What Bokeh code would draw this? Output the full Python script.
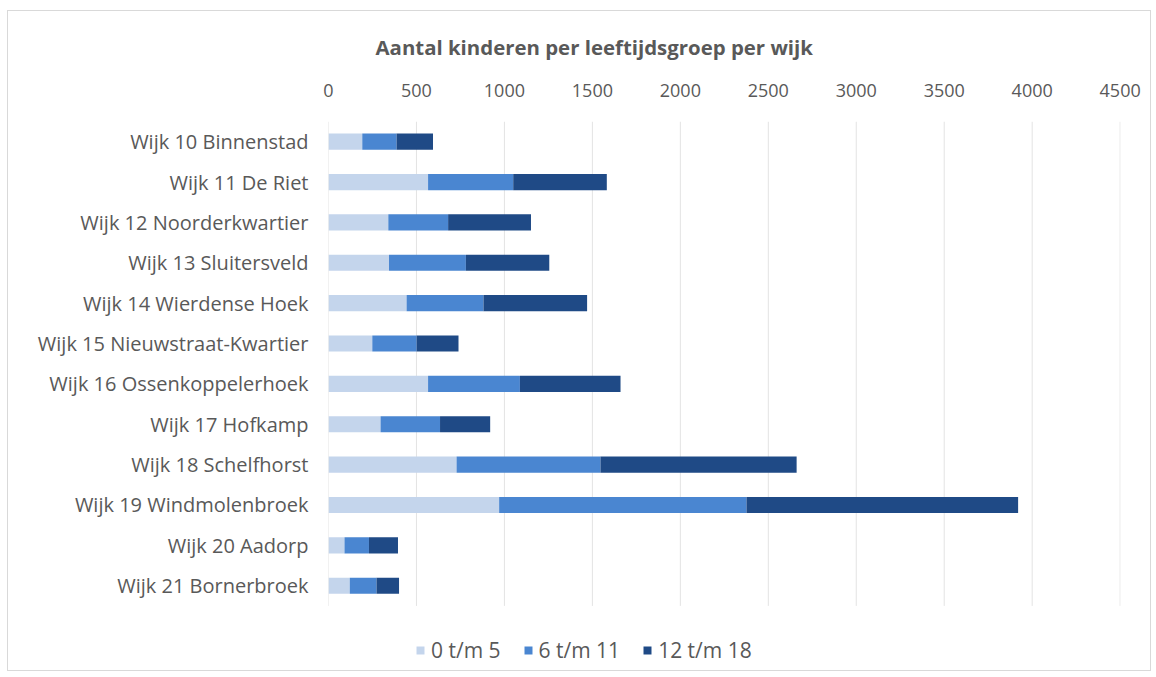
from bokeh.plotting import figure
from bokeh.models import ColumnDataSource, Range1d, Legend, LegendItem, FixedTicker
from bokeh.embed import file_html
from bokeh.resources import INLINE

wijken = [
    "Wijk 10 Binnenstad", "Wijk 11 De Riet", "Wijk 12 Noorderkwartier",
    "Wijk 13 Sluitersveld", "Wijk 14 Wierdense Hoek", "Wijk 15 Nieuwstraat-Kwartier",
    "Wijk 16 Ossenkoppelerhoek", "Wijk 17 Hofkamp", "Wijk 18 Schelfhorst",
    "Wijk 19 Windmolenbroek", "Wijk 20 Aadorp", "Wijk 21 Bornerbroek",
]
groep_0_5 = [192, 566, 340, 344, 444, 249, 566, 296, 728, 970, 91, 121]
groep_6_11 = [195, 484, 340, 437, 437, 252, 522, 338, 818, 1406, 139, 152]
groep_12_18 = [207, 532, 471, 474, 589, 238, 572, 285, 1115, 1544, 165, 128]
series = ["0 t/m 5", "6 t/m 11", "12 t/m 18"]
ticks = [0, 500, 1000, 1500, 2000, 2500, 3000, 3500, 4000, 4500]

colors = ["#c4d5ec", "#4a86d1", "#1f4a86"]
FONT = "Open Sans"
GREY = "#595959"

n = len(wijken)
ypos = list(range(n - 1, -1, -1))  # first district on top
src = ColumnDataSource(dict(y=ypos, a=groep_0_5, b=groep_6_11, c=groep_12_18))

p = figure(
    width=1144, height=661,
    y_range=Range1d(-2.1, n - 0.5),
    x_range=Range1d(0, 4502),
    x_axis_location="above",
    output_backend="svg", toolbar_location=None,
    min_border_left=320, min_border_right=32, min_border_top=107, min_border_bottom=2,
    title="Aantal kinderen per leeftijdsgroep per wijk",
)
p.styles = {"border": "1px solid #d9d9d9", "margin-left": "7px", "margin-top": "10px"}

# vertical gridlines limited to the category area
p.segment(x0=ticks, x1=ticks, y0=[-0.5] * len(ticks), y1=[n - 0.5] * len(ticks),
          line_color="#e3e3e3", line_width=1)

renderers = p.hbar_stack(["a", "b", "c"], y="y", height=0.4, color=colors,
                         source=src, line_color=None)

p.title.align = "left"
p.title.offset = 47
p.title.text_font = FONT
p.title.text_font_size = "20.4px"
p.title.text_font_style = "bold"
p.title.text_color = GREY
p.title.standoff = 39

p.outline_line_color = None
p.ygrid.grid_line_color = None
p.xgrid.grid_line_color = None

xa = p.xaxis[0]
xa.ticker = FixedTicker(ticks=ticks)
xa.axis_line_color = None
xa.major_tick_line_color = None
xa.major_tick_out = 0
xa.minor_tick_line_color = None
xa.minor_tick_out = 0
xa.major_label_text_font = FONT
xa.major_label_text_font_size = "18px"
xa.major_label_text_color = GREY
xa.major_label_standoff = 25

ya = p.yaxis[0]
ya.ticker = FixedTicker(ticks=ypos)
ya.major_label_overrides = {y: w for y, w in zip(ypos, wijken)}
ya.axis_line_color = None
ya.major_tick_line_color = None
ya.major_tick_out = 0
ya.minor_tick_line_color = None
ya.minor_tick_out = 0
ya.major_label_text_font = FONT
ya.major_label_text_font_size = "20px"
ya.major_label_text_color = GREY
ya.major_label_standoff = 20

legend = Legend(
    items=[LegendItem(label=s, renderers=[r]) for s, r in zip(series, renderers)],
    orientation="horizontal", location=(87, 6),
    label_text_font=FONT, label_text_font_size="21px", label_text_color=GREY,
    glyph_width=10, glyph_height=10, label_standoff=6, spacing=22,
    border_line_color=None, background_fill_alpha=0, padding=0, margin=0,
)
p.add_layout(legend, "center")

open("out.html", "w").write(file_html(p, INLINE))
